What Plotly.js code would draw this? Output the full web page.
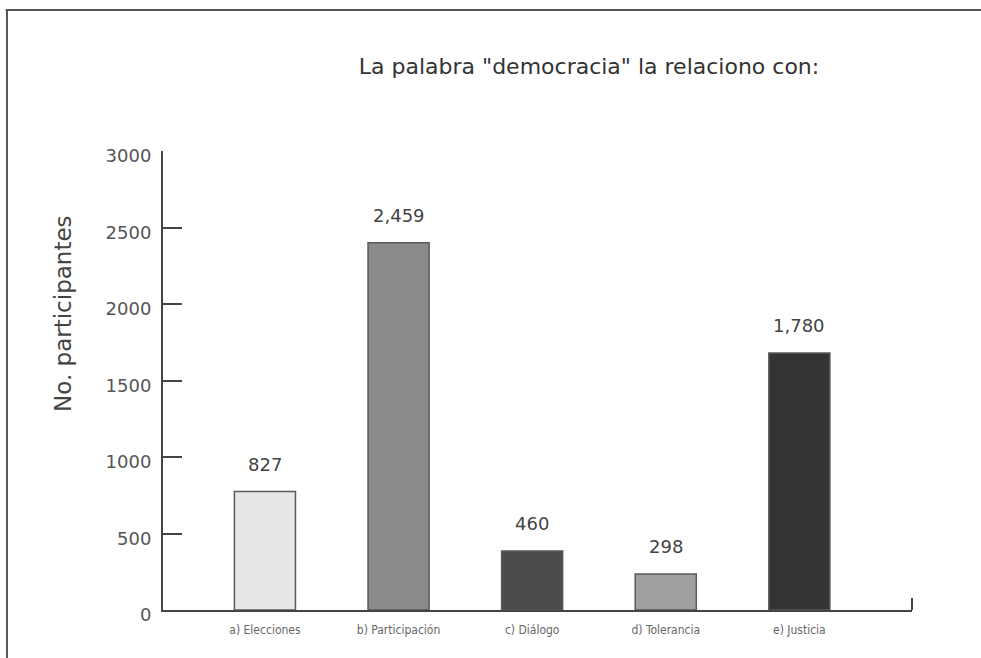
<!DOCTYPE html>
<html>
<head>
<meta charset="utf-8">
<script src="https://cdn.plot.ly/plotly-3.0.1.min.js"></script>
<style>html,body{margin:0;padding:0;background:#fff;}#chart{width:981px;height:658px;}</style>
</head>
<body>
<div id="chart"></div>
<script>
var categories = ["a) Elecciones", "b) Participación", "c) Diálogo", "d) Tolerancia", "e) Justicia"];
var barHeights = [774, 2401, 386, 235, 1680];
var valueLabels = ["827", "2,459", "460", "298", "1,780"];
var barColors = ["#e7e7e7", "#8b8b8b", "#4b4b4b", "#a0a0a0", "#343434"];
var yTicks = [0, 500, 1000, 1500, 2000, 2500, 3000];
var yTitle = "No. participantes";
var chartTitle = 'La palabra "democracia" la relaciono con:';

var FONT = "DejaVu Sans, Verdana, sans-serif";
var idx = categories.map(function(c, i){ return i; });

var trace = {
  type: "bar",
  x: idx,
  y: barHeights,
  width: 0.457,
  marker: {color: barColors, line: {color: "#5a5a5a", width: 1.5}},
  hoverinfo: "skip"
};

var annotations = idx.map(function(i){
  return {x: i, y: barHeights[i], xref: "x", yref: "y", text: valueLabels[i],
    showarrow: false, yanchor: "bottom", yshift: 15,
    font: {family: FONT, size: 18, color: "#444"}};
});
annotations.push({
  text: yTitle, xref: "paper", yref: "paper", x: -0.1335, y: 0.645,
  xanchor: "center", yanchor: "middle", textangle: -90, showarrow: false,
  font: {family: FONT, size: 23, color: "#444"}
});

var layout = {
  width: 981, height: 658,
  margin: {l: 163, r: 69, t: 151, b: 48},
  paper_bgcolor: "#fff", plot_bgcolor: "#fff",
  showlegend: false,
  title: {text: chartTitle, xref: "container", x: 0.6004, xanchor: "center", yref: "container", y: 0.899, yanchor: "middle",
    font: {family: FONT, size: 22, color: "#333"}},
  xaxis: {
    range: [-0.763, 4.843], tickmode: "array", tickvals: idx,
    ticktext: categories, ticks: "", showgrid: false, zeroline: false,
    showline: true, linecolor: "#444", linewidth: 2, ticklabelstandoff: 8,
    tickfont: {family: "Liberation Sans Narrow, DejaVu Sans Condensed, sans-serif", size: 12, color: "#666"}
  },
  yaxis: {
    range: [0, 3000], tickmode: "array", tickvals: yTicks, ticktext: yTicks.map(String),
    ticks: "inside", ticklen: 19, tickwidth: 2, tickcolor: "#444",
    showgrid: false, zeroline: false, showline: true, linecolor: "#444", linewidth: 2,
    ticklabelstandoff: 6, ticklabelshift: 5,
    tickfont: {family: FONT, size: 18, color: "#555"}
  },
  annotations: annotations,
  shapes: [
    {type: "line", xref: "paper", yref: "paper", x0: -0.21, x1: 1.1, y0: 1.307, y1: 1.307, line: {color: "#555", width: 2}},
    {type: "line", xref: "paper", yref: "paper", x0: -0.2083, x1: -0.2083, y0: 1.307, y1: -0.11, line: {color: "#555", width: 2}},
    {type: "line", xref: "paper", yref: "paper", x0: 1, x1: 1, y0: 0, y1: 0.026, line: {color: "#444", width: 2}}
  ]
};

Plotly.newPlot("chart", [trace], layout, {displayModeBar: false, staticPlot: true});
</script>
</body>
</html>
